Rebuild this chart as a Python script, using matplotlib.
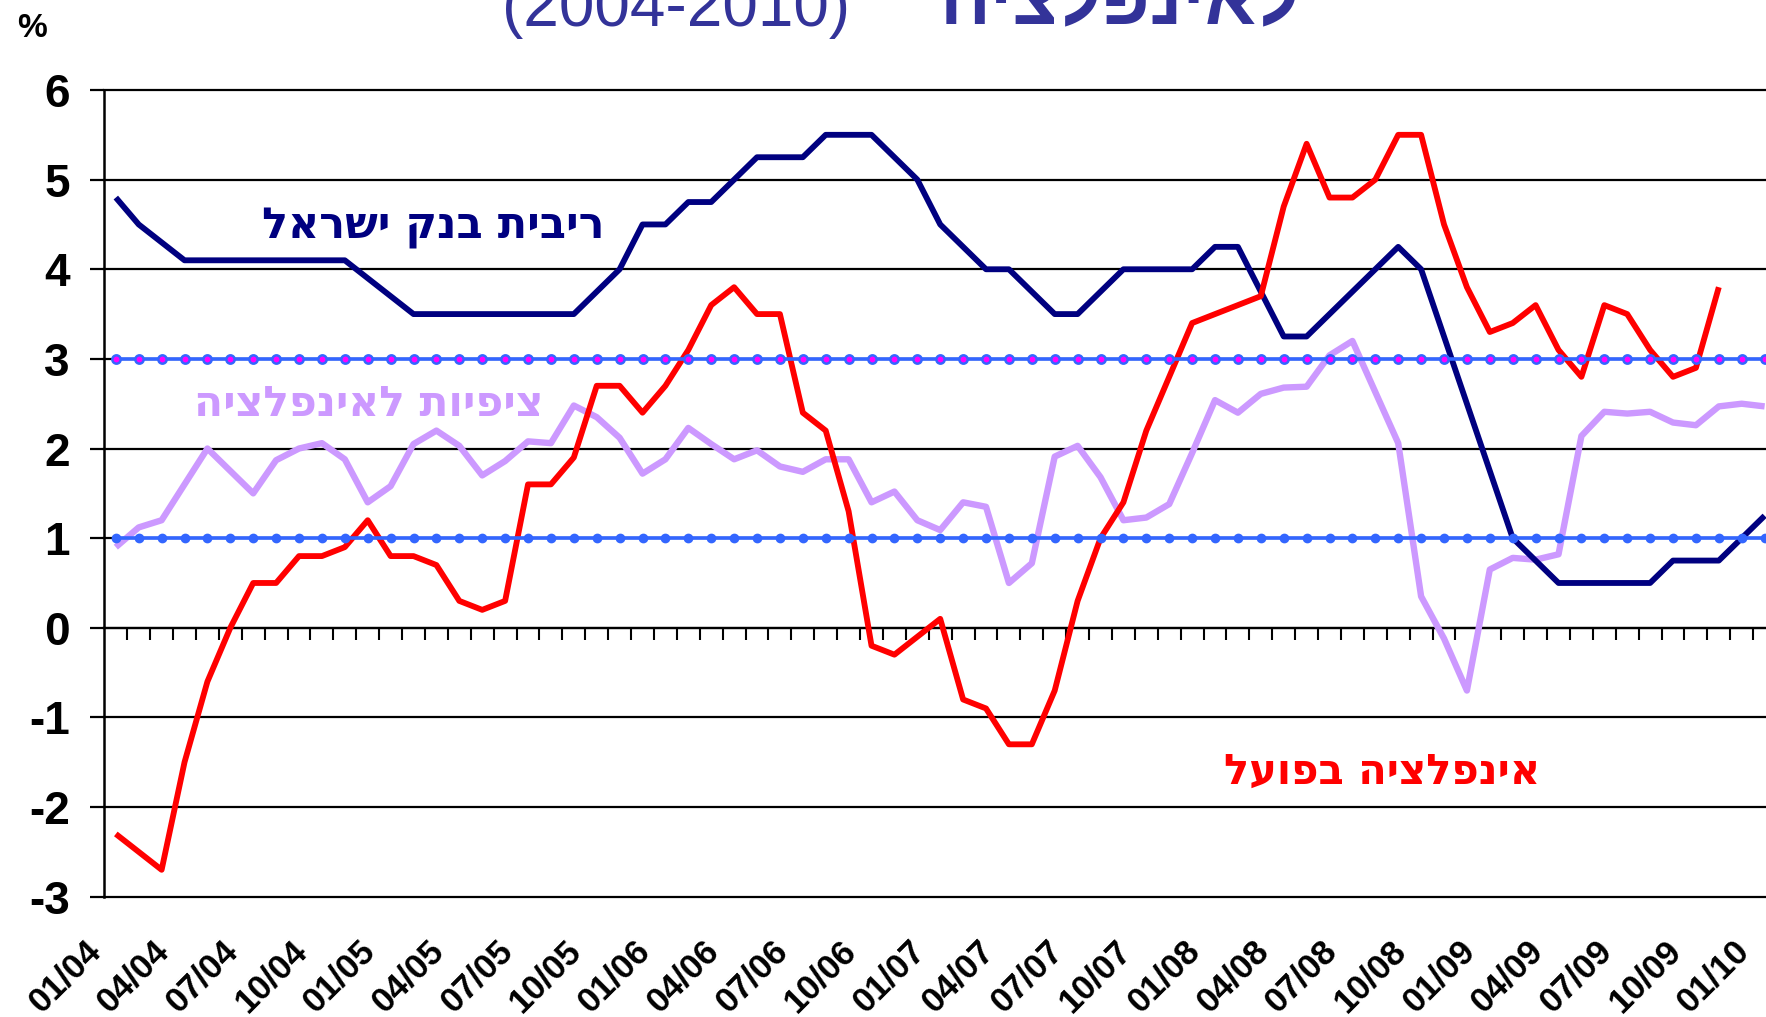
import numpy as np
import matplotlib.pyplot as plt
from matplotlib.transforms import offset_copy

plt.rcParams['font.family'] = ['Liberation Sans', 'DejaVu Sans']

# monthly data, 01/2004 - 01/2010
boi_rate = [4.8, 4.5, 4.3, 4.1, 4.1, 4.1, 4.1, 4.1, 4.1, 4.1, 4.1, 3.9, 3.7, 3.5,
            3.5, 3.5, 3.5, 3.5, 3.5, 3.5, 3.5, 3.75, 4.0, 4.5, 4.5, 4.75, 4.75, 5.0,
            5.25, 5.25, 5.25, 5.5, 5.5, 5.5, 5.25, 5.0, 4.5, 4.25, 4.0, 4.0, 3.75, 3.5,
            3.5, 3.75, 4.0, 4.0, 4.0, 4.0, 4.25, 4.25, 3.75, 3.25, 3.25, 3.5, 3.75, 4.0,
            4.25, 4.0, 3.25, 2.5, 1.75, 1.0, 0.75, 0.5, 0.5, 0.5, 0.5, 0.5, 0.75, 0.75,
            0.75, 1.0, 1.25]
inflation = [-2.3, -2.5, -2.7, -1.5, -0.6, 0.0, 0.5, 0.5, 0.8, 0.8, 0.9, 1.2, 0.8, 0.8,
             0.7, 0.3, 0.2, 0.3, 1.6, 1.6, 1.9, 2.7, 2.7, 2.4, 2.7, 3.1, 3.6, 3.8,
             3.5, 3.5, 2.4, 2.2, 1.3, -0.2, -0.3, -0.1, 0.1, -0.8, -0.9, -1.3, -1.3, -0.7,
             0.3, 1.0, 1.4, 2.2, 2.8, 3.4, 3.5, 3.6, 3.7, 4.7, 5.4, 4.8, 4.8, 5.0,
             5.5, 5.5, 4.5, 3.8, 3.3, 3.4, 3.6, 3.1, 2.8, 3.6, 3.5, 3.1, 2.8, 2.9,
             3.8, np.nan, np.nan]
expectations = [0.9, 1.12, 1.2, 1.6, 2.0, 1.75, 1.5, 1.87, 2.0, 2.06, 1.88, 1.4, 1.58, 2.05,
                2.2, 2.03, 1.7, 1.86, 2.08, 2.06, 2.48, 2.35, 2.12, 1.72, 1.88, 2.23, 2.05, 1.88,
                1.98, 1.8, 1.74, 1.88, 1.88, 1.4, 1.52, 1.2, 1.09, 1.4, 1.35, 0.5, 0.72, 1.91,
                2.03, 1.68, 1.2, 1.23, 1.38, 1.95, 2.54, 2.4, 2.61, 2.68, 2.69, 3.04, 3.2, 2.63,
                2.06, 0.35, -0.12, -0.7, 0.65, 0.78, 0.76, 0.82, 2.14, 2.41, 2.39, 2.41, 2.29, 2.26,
                2.47, 2.5, 2.47]
target_upper = 3.0
target_lower = 1.0

x_labels = ['01/04', '04/04', '07/04', '10/04', '01/05', '04/05', '07/05', '10/05',
            '01/06', '04/06', '07/06', '10/06', '01/07', '04/07', '07/07', '10/07',
            '01/08', '04/08', '07/08', '10/08', '01/09', '04/09', '07/09', '10/09', '01/10']
y_ticks = [-3, -2, -1, 0, 1, 2, 3, 4, 5, 6]

label_boi = 'ריבית בנק ישראל'
label_exp = 'ציפיות לאינפלציה'
label_inf = 'אינפלציה בפועל'
title_year = '(2004-2010)'
title_heb = 'לאינפלציה'


def rtl(s):
    # matplotlib has no bidi support
    return s[::-1]


fig = plt.figure(figsize=(17.66, 10.17), dpi=100)
ax = fig.add_axes([0.0591, 0.1183, 0.9466, 0.7932])

x = np.arange(len(boi_rate))

for yv in y_ticks:
    ax.axhline(yv, color='black', lw=1.6, zorder=1, clip_on=False)

ax.plot(x, expectations, color='#CC99FF', lw=4.6, solid_capstyle='butt', zorder=3)
ax.plot(x, boi_rate, color='#000080', lw=4.2, solid_capstyle='butt', zorder=4)
ax.plot(x, inflation, color='#FF0000', lw=4.2, solid_capstyle='butt', zorder=5)

ax.plot(x, np.full(len(x), target_upper), color='#3366FF', lw=2.6, marker='o', ms=6,
        mfc='#FF00FF', mec='#3366FF', mew=1.8, zorder=6, clip_on=False)
ax.plot(x, np.full(len(x), target_lower), color='#3366FF', lw=2.6, marker='o', ms=6,
        mfc='#3366FF', mec='#3366FF', zorder=6, clip_on=False)

ax.set_xlim(-0.5, len(x) - 0.5)
ax.set_ylim(-3, 6)
ax.set_yticks(y_ticks)
ax.set_yticklabels([str(v) for v in y_ticks])
for t in ax.get_yticklabels():
    t.set_fontweight('bold')
ax.tick_params(axis='y', length=10, width=1.6, pad=15, labelsize=33)

ax.spines['top'].set_visible(False)
ax.spines['right'].set_visible(False)
ax.spines['left'].set_linewidth(1.8)
ax.spines['bottom'].set_position(('data', 0))
ax.spines['bottom'].set_linewidth(1.6)
ax.set_xticks([])
ax.set_xticks(np.arange(0.5, len(x) - 0.5, 1), minor=True)
ax.tick_params(axis='x', which='minor', length=8.5, width=1.5, direction='out')

lab_tr = offset_copy(ax.get_xaxis_transform(), fig=fig, x=-23, y=-27, units='points')
for pos, lab in zip(range(0, len(x), 3), x_labels):
    ax.text(pos, 0, lab, transform=lab_tr, rotation=45, rotation_mode='anchor',
            ha='right', va='top', fontsize=25, fontweight='bold', clip_on=False)

heb = ['DejaVu Sans']
ax.text(13.85, 4.46, rtl(label_boi), color='#000080', fontsize=31, fontweight='bold',
        family=heb, ha='center', va='center')
ax.text(11.05, 2.50, rtl(label_exp), color='#CC99FF', fontsize=30.5, fontweight='bold',
        family=heb, ha='center', va='center')
ax.text(55.3, -1.61, rtl(label_inf), color='#FF0000', fontsize=30, fontweight='bold',
        family=heb, ha='center', va='center')

fig.text(0.383, 0.974, title_year, color='#333399', fontsize=46, ha='center', va='baseline')
fig.text(0.634, 0.976, rtl(title_heb), color='#333399', fontsize=54, fontweight='bold',
         family=['Liberation Sans', 'DejaVu Sans'], ha='center', va='baseline')
fig.text(0.018, 0.972, '%', fontsize=24, fontweight='bold', ha='center', va='center')

fig.savefig('out.png', dpi=100)
